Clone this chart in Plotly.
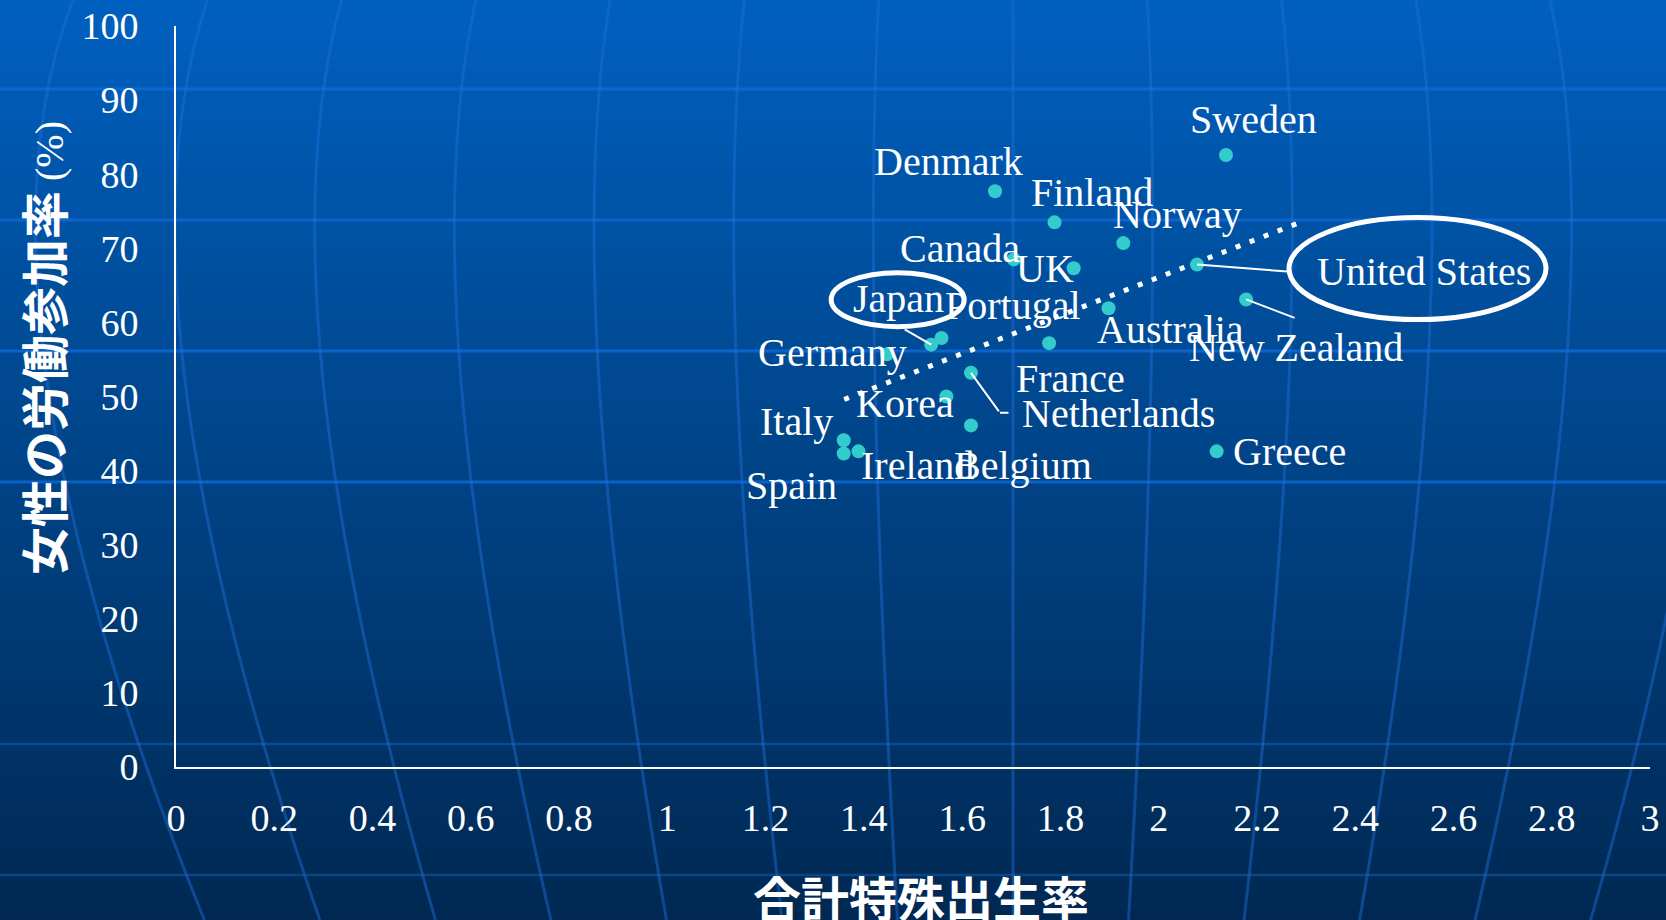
import plotly.graph_objects as go

# ---------------- data ----------------
countries = ["Sweden", "Denmark", "Finland", "Norway", "Canada", "UK", "United States",
             "New Zealand", "Australia", "Japan", "Portugal", "France", "Germany", "Korea",
             "Netherlands", "Belgium", "Italy", "Spain", "Ireland", "Greece"]
tfr = [2.137, 1.667, 1.788, 1.928, 1.705, 1.827, 2.078,
       2.178, 1.898, 1.537, 1.558, 1.777, 1.447, 1.568,
       1.618, 1.618, 1.359, 1.359, 1.389, 2.118]
flfp = [82.6, 77.7, 73.5, 70.7, 68.5, 67.3, 67.8,
        63.1, 61.9, 57.0, 57.9, 57.2, 55.7, 50.0,
        53.2, 46.1, 44.1, 42.3, 42.6, 42.6]
trend_x = [1.36, 2.28]
trend_y = [49.6, 73.3]
x_tickvals = [0, 0.2, 0.4, 0.6, 0.8, 1, 1.2, 1.4, 1.6, 1.8, 2, 2.2, 2.4, 2.6, 2.8, 3]
x_ticktext = ["0", "0.2", "0.4", "0.6", "0.8", "1", "1.2", "1.4", "1.6", "1.8",
              "2", "2.2", "2.4", "2.6", "2.8", "3"]
y_tickvals = [0, 10, 20, 30, 40, 50, 60, 70, 80, 90, 100]
y_ticktext = ["0", "10", "20", "30", "40", "50", "60", "70", "80", "90", "100"]
x_title = "合計特殊出生率"
y_title = "女性の労働参加率"
y_unit = "(%)"

# label placement (pixel offsets from the point: dx right, dy up)
label_offsets = {
    "Sweden": (28, 35), "Denmark": (-47, 30), "Finland": (37, 30), "Norway": (54, 29),
    "Canada": (-54, 11), "UK": (-29, 0), "United States": (227, -7),
    "New Zealand": (50, -48), "Australia": (62, -21), "Japan": (-33, 46),
    "Portugal": (71, 32), "France": (21, -35), "Germany": (-54, 2), "Korea": (-41, -7),
    "Netherlands": (148, -41), "Belgium": (52, -40), "Italy": (-47, 19),
    "Spain": (-52, -32), "Ireland": (59, -14), "Greece": (73, 0),
}
# leader lines: tail offset (px right, px down) from point
leaders = {"Japan": (-28, -16), "United States": (92, 7), "New Zealand": (50, 19),
           "Netherlands": (29, 40)}
# ellipses around highlighted labels: (x0, x1, y0, y1) pixel offsets from point (y up)
ellipses = {"Japan": (-100, 33, 18, 72), "United States": (92, 349, -55, 47)}

# ---------------- layout geometry ----------------
W, H = 1666, 920
L, R, T, B = 176, 16, 26, 153
PW, PH = W - L - R, H - T - B


def px(xpix):
    return (xpix - L) / PW


def py(ypix):
    return (H - B - ypix) / PH


SERIF = "Liberation Serif"
CJK = "Noto Sans CJK JP"
WHITE = "white"

shapes = []
# background gradient
stops = [(0, (0, 96, 192)), (460, (0, 68, 136)), (920, (0, 40, 82))]


def grad(y):
    for (y0, c0), (y1, c1) in zip(stops[:-1], stops[1:]):
        if y0 <= y <= y1:
            f = (y - y0) / (y1 - y0)
            return tuple(int(round(a + (b - a) * f)) for a, b in zip(c0, c1))
    return stops[-1][1]


step = 10
for yy in range(-10, H + 10, step):
    c = grad(min(max(yy + step / 2, 0), H))
    shapes.append(dict(type="rect", xref="paper", yref="paper", layer="below",
                       x0=px(-5), x1=px(W + 5), y0=py(yy), y1=py(yy + step + 1),
                       fillcolor="rgb(%d,%d,%d)" % c, line=dict(width=0)))

# decorative horizontal lines
for yy, col, wdt in [(89, "#0A69D0", 3), (220, "#0A66CC", 3), (351, "#0A64CA", 3),
                     (482, "#0A62C8", 3), (744, "#0B4A95", 2.5), (875, "#0B4586", 2.5)]:
    shapes.append(dict(type="line", xref="paper", yref="paper", layer="below",
                       x0=px(0), x1=px(W), y0=py(yy), y1=py(yy),
                       line=dict(color=col, width=wdt)))

# decorative globe meridians
cx0 = 1013
for k in range(-7, 6):
    d = k * 134
    p0 = (cx0 + d, -5)
    c1 = (cx0 + d * 1.13, 300)
    p2 = (cx0 + d * 0.86, 925)
    path = "M %f,%f Q %f,%f %f,%f" % (px(p0[0]), py(p0[1]), px(c1[0]), py(c1[1]),
                                       px(p2[0]), py(p2[1]))
    shapes.append(dict(type="path", xref="paper", yref="paper", layer="below", path=path,
                       line=dict(color="rgba(30,110,220,0.45)", width=3)))

# ellipses
for name, (ex0, ex1, ey0, ey1) in ellipses.items():
    i = countries.index(name)
    shapes.append(dict(type="circle", xref="x", yref="y", xsizemode="pixel",
                       ysizemode="pixel", xanchor=tfr[i], yanchor=flfp[i],
                       x0=ex0, x1=ex1, y0=ey0, y1=ey1,
                       line=dict(color=WHITE, width=5), layer="above"))

fig = go.Figure()
fig.add_trace(go.Scatter(x=trend_x, y=trend_y, mode="lines",
                         line=dict(color=WHITE, width=5, dash="5px,10px"),
                         hoverinfo="skip", showlegend=False))
fig.add_trace(go.Scatter(x=tfr, y=flfp, mode="markers", text=countries,
                         marker=dict(color="#33CCCC", size=14, line=dict(width=0)),
                         showlegend=False))

annotations = []
for name, xv, yv in zip(countries, tfr, flfp):
    dx, dy = label_offsets[name]
    annotations.append(dict(x=xv, y=yv, xref="x", yref="y", text=name, showarrow=False,
                            xshift=dx, yshift=dy, xanchor="center", yanchor="middle",
                            font=dict(family=SERIF, size=40, color=WHITE)))
for name, (ax, ay) in leaders.items():
    i = countries.index(name)
    annotations.append(dict(x=tfr[i], y=flfp[i], xref="x", yref="y", text="",
                            showarrow=True, arrowhead=0, arrowwidth=2, arrowcolor=WHITE,
                            ax=ax, ay=ay, standoff=0, startstandoff=0,
                            font=dict(size=1)))
# short horizontal tail of the Netherlands leader
i_nl = countries.index("Netherlands")
annotations.append(dict(x=tfr[i_nl], y=flfp[i_nl], xref="x", yref="y", text="",
                        xshift=leaders["Netherlands"][0], yshift=-leaders["Netherlands"][1],
                        showarrow=True, arrowhead=0, arrowwidth=2, arrowcolor=WHITE,
                        ax=10, ay=0, standoff=0, startstandoff=0, font=dict(size=1)))

# axis titles
annotations.append(dict(xref="paper", yref="paper", x=px(921), y=py(896),
                        text="<b>%s</b>" % x_title, showarrow=False,
                        xanchor="center", yanchor="middle",
                        font=dict(family=CJK, size=48, color=WHITE)))
annotations.append(dict(xref="paper", yref="paper", x=px(42), y=py(348),
                        text="<b>%s</b><span style='font-family:%s;font-size:40px'> %s</span>"
                             % (y_title, SERIF, y_unit),
                        textangle=-90, showarrow=False, xanchor="center", yanchor="middle",
                        font=dict(family=CJK, size=48, color=WHITE)))

fig.update_layout(
    width=W, height=H,
    margin=dict(l=L, r=R, t=T, b=B, pad=0, autoexpand=False),
    paper_bgcolor="#00407F",
    plot_bgcolor="rgba(0,0,0,0)",
    shapes=shapes,
    annotations=annotations,
    xaxis=dict(range=[0, 3], tickmode="array", tickvals=x_tickvals, ticktext=x_ticktext,
               showgrid=False, zeroline=False, showline=True, linecolor=WHITE, linewidth=2,
               ticks="", ticklabelstandoff=16, automargin=False,
               tickfont=dict(family=SERIF, size=38, color=WHITE), fixedrange=True),
    yaxis=dict(range=[0, 100], tickmode="array", tickvals=y_tickvals, ticktext=y_ticktext,
               showgrid=False, zeroline=False, showline=True, linecolor=WHITE, linewidth=2,
               ticks="", ticklabelstandoff=28, automargin=False,
               tickfont=dict(family=SERIF, size=38, color=WHITE), fixedrange=True),
    showlegend=False,
)

fig.write_html("out.html")
